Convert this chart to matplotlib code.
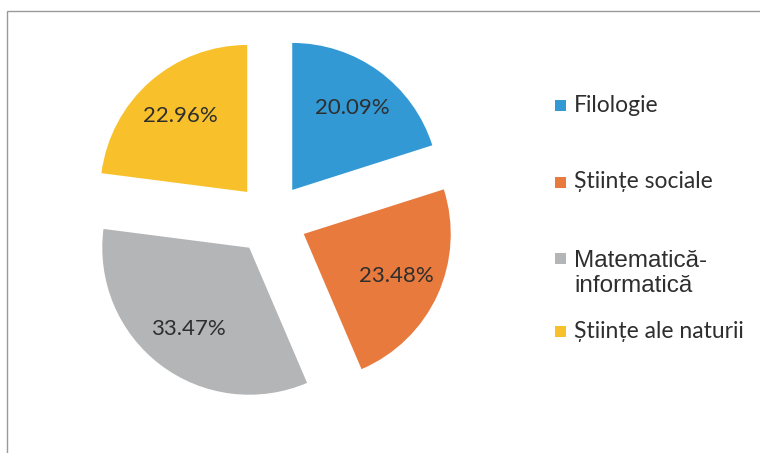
import matplotlib
matplotlib.use("Agg")
import matplotlib.pyplot as plt
from matplotlib.patches import Rectangle

categories = ["Filologie", "Științe sociale", "Matematică-\ninformatică", "Științe ale naturii"]
values = [20.09, 23.48, 33.47, 22.96]
colors = ["#3399d4", "#e87a3e", "#b3b5b7", "#f8c12c"]

W, H = 760, 453
fig = plt.figure(figsize=(W / 100, H / 100), dpi=100)
ax = fig.add_axes([0, 0, 1, 1])

# chart border (extends past right/bottom edges like the scan)
ax.add_patch(Rectangle((7, -5), W + 20, H - 11 + 5, fill=False,
                       edgecolor="#9a9a9a", linewidth=1.0, clip_on=False))

radius = 147
center = (271, H - 219)
explode = [36] * len(values)

wedges, texts, autotexts = ax.pie(
    values, colors=colors, startangle=90, counterclock=False,
    radius=radius, center=center, explode=explode,
    autopct="%.2f%%", pctdistance=0.69,
    textprops=dict(fontsize=16, color="#2e2e2e", family="Lato"),
    wedgeprops=dict(linewidth=0), frame=False)
ax.set_xlim(0, W)
ax.set_ylim(0, H)
ax.set_aspect("equal")
ax.axis("off")

# legend
legend_y = [105, 182, 258, 331]
for cat, col, y in zip(categories, colors, legend_y):
    yy = H - y
    ax.add_patch(Rectangle((555, yy - 5.5), 11, 11, facecolor=col, edgecolor="none"))
    if "\n" in cat:
        ax.text(574, yy + 8, cat, fontsize=17.5, family="Liberation Sans",
                color="#2e2e2e", va="top", ha="left", linespacing=1.2)
    else:
        ax.text(574, yy, cat, fontsize=16.5, family="Lato", color="#2e2e2e",
                va="center", ha="left")

fig.savefig("out.png", dpi=100)
